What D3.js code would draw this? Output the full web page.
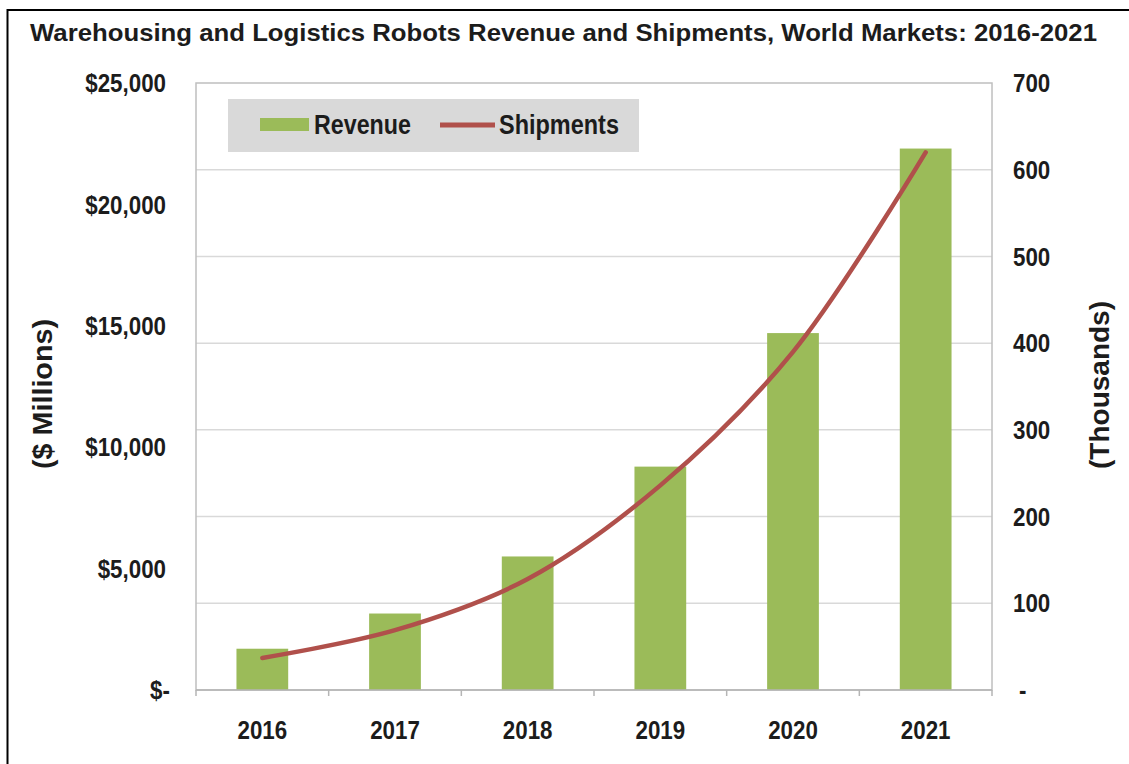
<!DOCTYPE html>
<html>
<head>
<meta charset="utf-8">
<script src="https://cdn.jsdelivr.net/npm/d3@7"></script>
<style>
  html, body { margin: 0; padding: 0; background: #fff; }
  svg { display: block; }
  text { font-family: "Liberation Sans", Arial, sans-serif; font-weight: bold; fill: #1c1c1c; }
</style>
</head>
<body>
<svg id="chart" width="1129" height="764"></svg>
<script>
// Years shown on the category axis
const years = ["2016", "2017", "2018", "2019", "2020", "2021"];
// Revenue, $ millions (bars, left axis)
const revenue = [1700, 3150, 5500, 9200, 14700, 22300];
// Shipments, thousands of units (line, right axis)
const shipments = [37, 69, 128, 236, 390, 620];
// Axis tick values
const revenueTicks = [0, 5000, 10000, 15000, 20000, 25000];
const shipmentTicks = [0, 100, 200, 300, 400, 500, 600, 700];

const chartTitle = "Warehousing and Logistics Robots Revenue and Shipments, World Markets: 2016-2021";
const leftTitle = "($ Millions)";
const rightTitle = "(Thousands)";
const seriesNames = ["Revenue", "Shipments"];

const barColor = "#9bbb59";
const lineColor = "#b0504b";
const gridColor = "#d9d9d9";
const frameColor = "#bfbfbf";
const tickFont = 26;
const squeeze = 0.86;   // horizontal compression for the condensed label face

const svg = d3.select("#chart");
const plot = { left: 196, right: 992, top: 83, bottom: 690 };

// Outer frame (only its top and left edges fall inside the page)
svg.append("rect")
  .attr("x", 7.5).attr("y", 10)
  .attr("width", 1300).attr("height", 1000)
  .attr("fill", "none").attr("stroke", "#000").attr("stroke-width", 2);

// Title
svg.append("text")
  .attr("x", 30).attr("y", 41)
  .attr("font-size", 24)
  .attr("textLength", 1067).attr("lengthAdjust", "spacingAndGlyphs")
  .text(chartTitle);

// Scales
const x = d3.scaleBand().domain(years)
  .range([plot.left, plot.right])
  .paddingInner(0.61).paddingOuter(0.305);
const step = x.step();
const yLeft = d3.scaleLinear().domain([0, 25000]).range([plot.bottom, plot.top]);
const yRight = d3.scaleLinear().domain([0, 700]).range([plot.bottom, plot.top]);

// Horizontal gridlines follow the right-hand axis
svg.append("g").selectAll("line")
  .data(shipmentTicks.filter(d => d > 0 && d < 700))
  .join("line")
  .attr("x1", plot.left).attr("x2", plot.right)
  .attr("y1", d => yRight(d)).attr("y2", d => yRight(d))
  .attr("stroke", gridColor).attr("stroke-width", 1.5);

// Plot-area border
svg.append("rect")
  .attr("x", plot.left).attr("y", plot.top)
  .attr("width", plot.right - plot.left).attr("height", plot.bottom - plot.top)
  .attr("fill", "none").attr("stroke", frameColor).attr("stroke-width", 1.5);

// Revenue bars
svg.append("g").selectAll("rect")
  .data(years.map((y, i) => ({ year: y, value: revenue[i] })))
  .join("rect")
  .attr("x", d => x(d.year))
  .attr("width", x.bandwidth())
  .attr("y", d => yLeft(d.value))
  .attr("height", d => yLeft(0) - yLeft(d.value))
  .attr("fill", barColor);

// Category axis: line, tick marks between categories, year labels
const xAxis = svg.append("g");
xAxis.append("line")
  .attr("x1", plot.left).attr("x2", plot.right)
  .attr("y1", plot.bottom).attr("y2", plot.bottom)
  .attr("stroke", "#b5b5b5").attr("stroke-width", 1.5);
xAxis.selectAll("line.tick")
  .data(d3.range(years.length + 1))
  .join("line").attr("class", "tick")
  .attr("x1", i => plot.left + i * step).attr("x2", i => plot.left + i * step)
  .attr("y1", plot.bottom).attr("y2", plot.bottom + 6)
  .attr("stroke", "#b5b5b5").attr("stroke-width", 1.5);
xAxis.selectAll("text")
  .data(years)
  .join("text")
  .attr("transform", d => `translate(${x(d) + x.bandwidth() / 2},739) scale(${squeeze},1)`)
  .attr("text-anchor", "middle")
  .attr("font-size", tickFont)
  .text(d => d);

// Shipments line (smoothed)
const line = d3.line()
  .x((d, i) => x(years[i]) + x.bandwidth() / 2)
  .y(d => yRight(d))
  .curve(d3.curveCatmullRom.alpha(0.5));
svg.append("path")
  .datum(shipments)
  .attr("d", line)
  .attr("fill", "none")
  .attr("stroke", lineColor)
  .attr("stroke-width", 4.5)
  .attr("stroke-linecap", "round");

// Left axis labels
const fmtMoney = d => d === 0 ? "$-" : "$" + d3.format(",")(d);
svg.append("g").selectAll("text")
  .data(revenueTicks)
  .join("text")
  .attr("transform", d => `translate(${d === 0 ? 170 : 166},${yLeft(d)}) scale(${squeeze},1)`)
  .attr("dy", "0.35em")
  .attr("text-anchor", "end")
  .attr("font-size", tickFont)
  .text(fmtMoney);

// Right axis labels
const fmtUnits = d => d === 0 ? "-" : d3.format(",")(d);
svg.append("g").selectAll("text")
  .data(shipmentTicks)
  .join("text")
  .attr("transform", d => `translate(${d === 0 ? 1019 : 1013},${yRight(d)}) scale(${squeeze},1)`)
  .attr("dy", "0.35em")
  .attr("text-anchor", "start")
  .attr("font-size", tickFont)
  .text(fmtUnits);

// Axis titles
svg.append("text")
  .attr("transform", "translate(42,394) rotate(-90)")
  .attr("text-anchor", "middle").attr("dy", "0.35em")
  .attr("font-size", 28)
  .attr("textLength", 150).attr("lengthAdjust", "spacingAndGlyphs")
  .text(leftTitle);
svg.append("text")
  .attr("transform", "translate(1099,385) rotate(-90)")
  .attr("text-anchor", "middle").attr("dy", "0.35em")
  .attr("font-size", 28)
  .attr("textLength", 168).attr("lengthAdjust", "spacingAndGlyphs")
  .text(rightTitle);

// Legend
const legend = svg.append("g");
legend.append("rect")
  .attr("x", 228).attr("y", 99).attr("width", 411).attr("height", 53)
  .attr("fill", "#d9d9d9");
legend.append("rect")
  .attr("x", 260).attr("y", 118).attr("width", 49).attr("height", 13)
  .attr("fill", barColor);
legend.append("text")
  .attr("x", 314).attr("y", 125).attr("dy", "0.35em")
  .attr("font-size", 27)
  .attr("textLength", 97).attr("lengthAdjust", "spacingAndGlyphs")
  .text(seriesNames[0]);
legend.append("line")
  .attr("x1", 440).attr("x2", 495).attr("y1", 125).attr("y2", 125)
  .attr("stroke", lineColor).attr("stroke-width", 5);
legend.append("text")
  .attr("x", 499).attr("y", 125).attr("dy", "0.35em")
  .attr("font-size", 27)
  .attr("textLength", 120).attr("lengthAdjust", "spacingAndGlyphs")
  .text(seriesNames[1]);
</script>
</body>
</html>
